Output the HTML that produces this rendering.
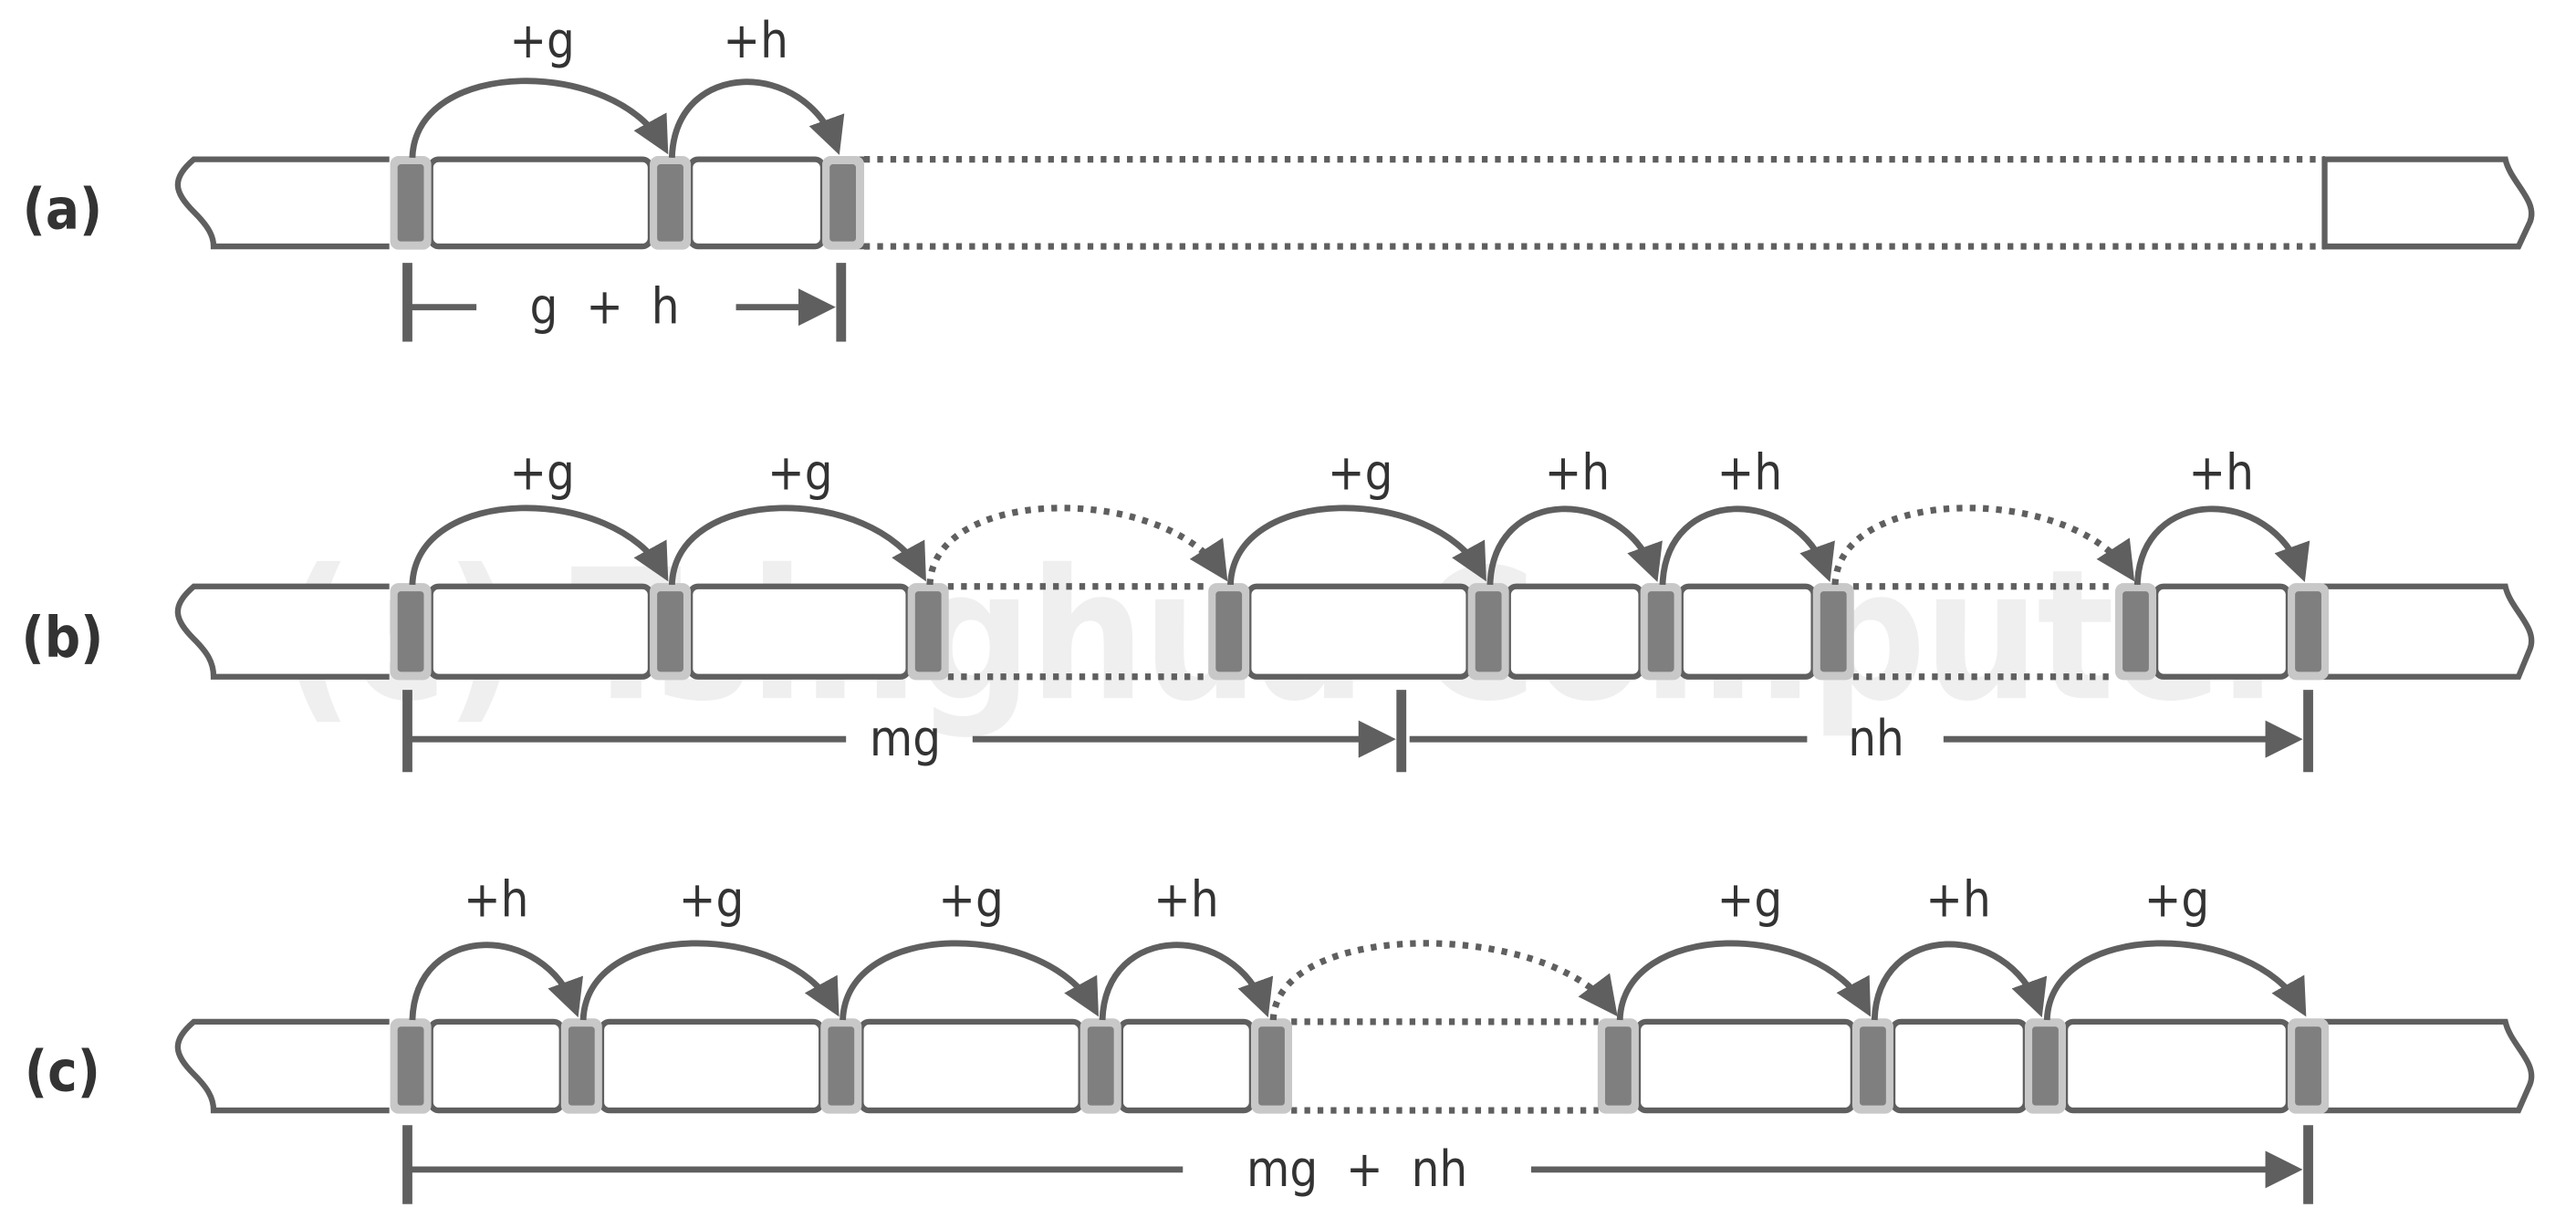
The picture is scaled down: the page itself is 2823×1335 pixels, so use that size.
<!DOCTYPE html>
<html><head><meta charset="utf-8"><style>
html,body{margin:0;padding:0;background:#fff;}
svg{display:block;}
text{font-family:"DejaVu Sans Condensed","DejaVu Sans","Liberation Sans Narrow","Liberation Sans",sans-serif;font-stretch:condensed;fill:#333;}
</style></head><body>
<svg id="s" width="2823" height="1335" viewBox="0 0 1568 741.5" xmlns="http://www.w3.org/2000/svg">
<defs>
<marker id="ah" markerWidth="6" markerHeight="6" refX="4.5" refY="3" orient="auto" markerUnits="strokeWidth">
<path d="M0,0 L6,3 L0,6 z" fill="#5f5f5f"/></marker>
</defs>
<text x="170" y="425" font-size="110" font-weight="bold" style="fill:#efefef" textLength="1230">(c) Tsinghua Computer</text>
<g id="g"></g>
<g font-size="30" text-anchor="middle">
<text x="330" y="35">+g</text><text x="460" y="35">+h</text>
<text x="330" y="298">+g</text><text x="487" y="298">+g</text><text x="828" y="298">+g</text>
<text x="960" y="298">+h</text><text x="1065" y="298">+h</text><text x="1352" y="298">+h</text>
<text x="302" y="558">+h</text><text x="433" y="558">+g</text><text x="591" y="558">+g</text>
<text x="722" y="558">+h</text><text x="1065" y="558">+g</text><text x="1192" y="558">+h</text><text x="1325" y="558">+g</text>
<text x="368" y="197" xml:space="preserve">g  +  h</text>
<text x="551" y="460">mg</text><text x="1142" y="460">nh</text>
<text x="826" y="722" xml:space="preserve">mg  +  nh</text>
</g>
<g font-size="34" text-anchor="middle" font-weight="bold">
<text x="38" y="139">(a)</text><text x="38" y="400">(b)</text><text x="38" y="664">(c)</text>
</g>
</svg>
<script>
var G=document.getElementById('g'),C='#5f5f5f',NS='http://www.w3.org/2000/svg';
function el(t,a){var e=document.createElementNS(NS,t);for(var k in a)e.setAttribute(k,a[k]);G.appendChild(e);return e;}
var DS='3.5,4.5',DW=4;
function row(yt,yb,ms,dots,arcs,ticks,dims){
 el('path',{d:'M237,'+yt+' L118,'+yt+' C104,'+(yt+12)+' 106,'+(yt+20)+' 118,'+(yt+32)+' C126,'+(yt+40)+' 130,'+(yt+46)+' 130,'+yb+' L237,'+yb,fill:'#fff',stroke:C,'stroke-width':3.5});
 var last=ms[ms.length-1];
 el('path',{d:'M'+last+','+yt+' L1525,'+yt+' C1528,'+(yt+14)+' 1545,'+(yt+25)+' 1540,'+(yt+38)+' L1533,'+yb+' L'+last+','+yb,fill:'#fff',stroke:C,'stroke-width':3.5});
 for(var i=0;i<ms.length-1;i++){
  var a=ms[i]+12,b=ms[i+1]-12;
  if(dots.indexOf(i)>=0){
   el('line',{x1:a,y1:yt,x2:b,y2:yt,stroke:C,'stroke-width':DW,'stroke-dasharray':DS});
   el('line',{x1:a,y1:yb,x2:b,y2:yb,stroke:C,'stroke-width':DW,'stroke-dasharray':DS});
  } else el('rect',{x:a,y:yt,width:b-a,height:yb-yt,rx:5,fill:'#fff',stroke:C,'stroke-width':3.5});
 }
 ms.forEach(function(m){
  el('rect',{x:m-12.5,y:yt-2,width:25,height:yb-yt+4,rx:5,fill:'#c8c8c8'});
  el('rect',{x:m-8,y:yt+3,width:16,height:yb-yt-6,rx:2,fill:'#7f7f7f'});
 });
 for(var i=0;i<ms.length-1;i++){
  var x0=ms[i]+1,x1=ms[i+1]-3,w=x1-x0,h=Math.min(46,w*0.45);
  var d='M'+x0+','+(yt-1)+' C'+(x0+2)+','+(yt-h*1.35)+' '+(x1-w*0.2)+','+(yt-h*1.35)+' '+(x1-1)+','+(yt-8);
  if(dots.indexOf(i)>=0) el('path',{d:d,fill:'none',stroke:C,'stroke-width':DW,'stroke-dasharray':DS,'marker-end':'url(#ah)'});
  else el('path',{d:d,fill:'none',stroke:C,'stroke-width':3.8,'marker-end':'url(#ah)'});
 }
 ticks.forEach(function(t){el('line',{x1:t[0],y1:t[1],x2:t[0],y2:t[2],stroke:C,'stroke-width':6});});
 dims.forEach(function(d){
  el('line',{x1:d[0],y1:d[2],x2:d[1],y2:d[2],stroke:C,'stroke-width':3.8,'marker-end':d[3]?'url(#ah)':''});
 });
}
row(97,150,[250,408,513],[],0,[[248,160,208],[512,160,208]],[[248,290,187,0],[448,503,187,1]]);
(function(){el('rect',{x:526,y:95,width:888,height:57,fill:'#fff'});
el('line',{x1:526,y1:97,x2:1415,y2:97,stroke:C,'stroke-width':DW,'stroke-dasharray':DS});
el('line',{x1:526,y1:150,x2:1415,y2:150,stroke:C,'stroke-width':DW,'stroke-dasharray':DS});
el('path',{d:'M1415,97 L1525,97 C1528,111 1545,122 1540,135 L1533,150 L1415,150 Z',fill:'#fff',stroke:C,'stroke-width':3.5});
el('rect',{x:501,y:95,width:25,height:57,rx:5,fill:'#c8c8c8'});el('rect',{x:505,y:100,width:16,height:47,rx:2,fill:'#7f7f7f'});
})();
row(357,412,[250,408,565,748,906,1011,1116,1300,1405],[2,6],0,[[248,420,470],[853,420,470],[1405,420,470]],[[248,515,450,0],[592,844,450,1],[858,1100,450,0],[1183,1396,450,1]]);
row(622,676,[250,354,512,670,774,985,1140,1245,1405],[4],0,[[248,685,733],[1405,685,733]],[[248,720,712,0],[932,1396,712,1]]);
</script>
</body></html>
